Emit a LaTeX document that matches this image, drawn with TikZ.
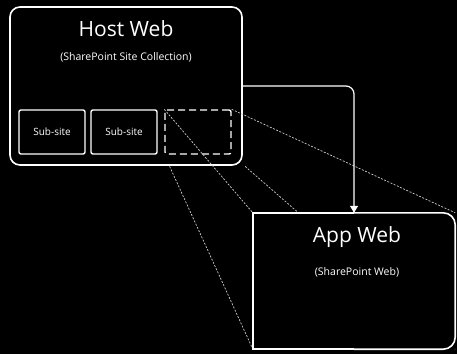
\documentclass[tikz,border=0pt]{standalone}
\usepackage{fontspec}
\setmainfont{Open Sans}
\usetikzlibrary{arrows.meta,calc}

\tikzstyle{panel} = [draw=white,line width=1.6pt,fill=black,rounded corners=10pt]
\tikzstyle{border} = [draw=white,line width=1.6pt]
\tikzstyle{subsite} = [draw=white,line width=1.4pt,rounded corners=2pt,minimum width=66pt,minimum height=44pt,text=white,font=\fontsize{10}{11}\selectfont]
\tikzstyle{ghost} = [subsite,dash pattern=on 7pt off 4pt]
\tikzstyle{zoomline} = [draw=white!80!black,line width=0.7pt,dash pattern=on 2pt off 1.5pt]
\tikzstyle{title} = [text=white,font=\fontsize{21}{24}\selectfont]
\tikzstyle{caption} = [text=white,font=\fontsize{10.5}{12}\selectfont]
\tikzstyle{flow} = [draw=white,line width=1.2pt,rounded corners=8pt,-{Triangle[length=7pt,width=8pt]}]

\begin{document}
\begin{tikzpicture}[x=1pt,y=-1pt]
    \fill[black] (0,0) rectangle (457,354);
    \useasboundingbox (0,0) rectangle (457,354);
    %% host web with its sub-sites
    \node[panel,minimum width=232pt,minimum height=158pt] (hostweb) at (126,86) {};
    \node[title] (hosttitle) at (126,29) {Host Web};
    \node[caption] (hostcaption) at (126,57) {(SharePoint Site Collection)};
    \foreach \name/\x in {subA/52, subB/124}
    {
      \node[subsite] (\name) at (\x,132) {Sub-site};
    }
    \node[ghost] (ghost) at (198,132) {};
    %% app web frame (filled later)
    \node[minimum width=202pt,minimum height=136pt] (appweb) at (354,281) {};
    %% zoom lines
    \foreach \corner in {north west, north east}
    {
      \draw[zoomline] (ghost.\corner) -- (appweb.\corner);
    }
    \foreach \corner in {south west, south east}
    {
      \draw[zoomline] ($(ghost.\corner)!0.06!(appweb.\corner)$) -- (appweb.\corner);
    }
    %% app web
    \fill[black] (appweb.north west) rectangle (appweb.south east);
    \draw[border,rounded corners=12pt] (appweb.north) -- (appweb.north east) -- (appweb.south east) -- (appweb.south);
    \draw[border] (appweb.south) -- (appweb.south west) -- (appweb.north west) -- (appweb.north);
    \node[title] (apptitle) at (357,237) {App Web};
    \node[caption] (appcaption) at (357,272) {(SharePoint Web)};
    %% edge
    \draw[flow] (hostweb.east) -| (appweb.north);
\end{tikzpicture}
\end{document}
